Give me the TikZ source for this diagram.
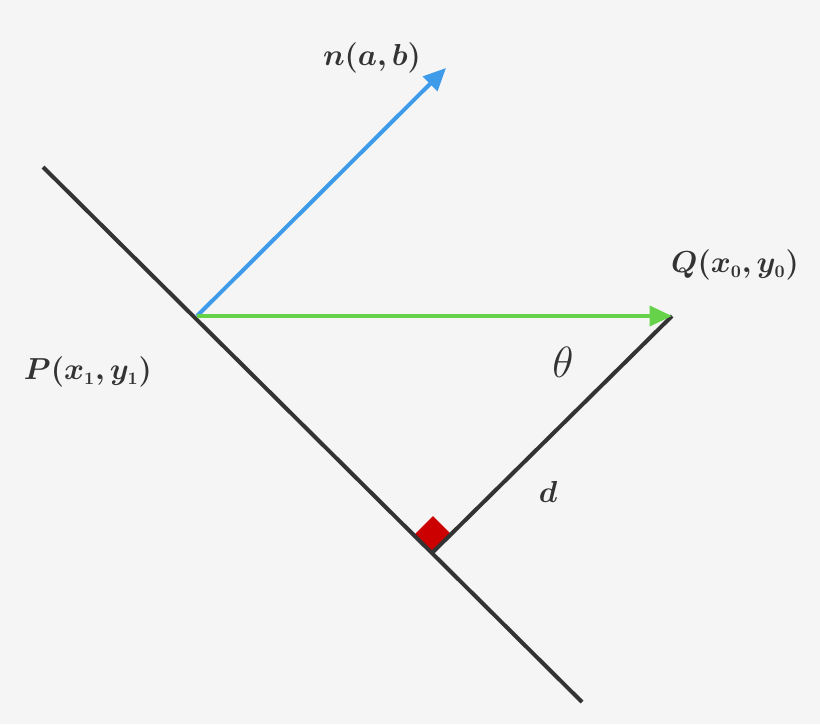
\documentclass[tikz,border=0pt]{standalone}
\usepackage{amsmath,amssymb,bm}
\usetikzlibrary{arrows.meta}
\begin{document}
\begin{tikzpicture}[x=0.02cm, y=-0.02cm,
	lbl/.style={font=\LARGE, color=black!80},
	vec/.style={line width=0.8mm, -{Triangle[length=4.5mm,width=4mm]}}]
\fill[black!4] (0,0) rectangle (820,724);
\coordinate (A) at (43,167);
\coordinate (B) at (582,702);
\coordinate (P) at (197,316);
\coordinate (N) at (446,68);
\coordinate (Q) at (672,316);
\coordinate (F) at (433,552);
% right angle mark
\fill[red!80!black] (F) -- ++(-18,-18) -- ++(18,-18) -- ++(18,18) -- cycle;
\draw[line width=0.8mm, color=black!80] (A) -- (B);
\draw[line width=0.8mm, color=black!80] (F) -- (Q);
\draw[vec, color={rgb,255:red,61;green,155;blue,233}] (P) -- (N);
\draw[vec, color={rgb,255:red,102;green,210;blue,74}] (P) -- (Q);
\node[lbl] (nlab) at (372,58) {$\bm{n(a,b)}$};
\node[lbl] (qlab) at (735,265) {$\bm{Q(x_{\scriptscriptstyle 0},y_{\scriptscriptstyle 0})}$};
\node[lbl] (plab) at (88,372) {$\bm{P(x_{\scriptscriptstyle 1},y_{\scriptscriptstyle 1})}$};
\node[font=\Huge, color=black!80] (theta) at (563,362) {$\theta$};
\node[lbl] (dlab) at (548,492) {$\bm{d}$};
\end{tikzpicture}
\end{document}
